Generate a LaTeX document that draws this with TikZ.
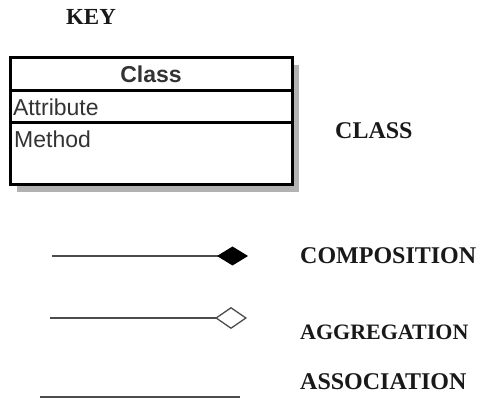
\documentclass[tikz,border=0pt]{standalone}
\usepackage{fontspec}
\setmainfont{Liberation Serif}
\newfontfamily\boxfont{Liberation Sans}
\usetikzlibrary{positioning,arrows.meta,backgrounds}

\tikzset{
	keytext/.style={font=\fontsize{24}{24}\selectfont\bfseries, text=black!90, inner sep=0pt},
	classpart/.style={draw, fill=white, line width=3pt, outer sep=0pt, minimum width=282pt, inner xsep=3pt, inner ysep=0pt,
		text width=276pt, align=left, font=\boxfont\fontsize{23}{23}\selectfont, text=black!80},
	member/.style={font=\boxfont\fontsize{23}{23}\selectfont, text=black!80, inner xsep=4pt, inner ysep=8pt},
	conn/.style={draw=black!70, line width=2pt}
}

\begin{document}
\begin{tikzpicture}[x=1pt,y=-1pt]
		\useasboundingbox (0,0) rectangle (482,403);
		%\draw[help lines] (0,0) grid (482,403);
		\node[keytext, font=\fontsize{23}{23}\selectfont\bfseries] (key) at (91,17) {KEY};
		
		% class box
		\node[classpart, minimum height=33pt, align=center] (head) at (151,74.5) {\bfseries Class};
		\node[classpart, minimum height=32pt, below=0pt of head] (attr) {Attribute};
		\node[classpart, minimum height=62pt, below=0pt of attr] (meth) {};
		\node[member, anchor=north west] (methlabel) at (meth.north west) {Method};
		\begin{scope}[on background layer]
			\fill[black!30] ([xshift=7pt,yshift=-7pt]head.north west) rectangle ([xshift=7pt,yshift=-7pt]meth.south east);
		\end{scope}
		\node[keytext, anchor=west] (classlabel) at (335,131) {CLASS};
		
		% composition
		\coordinate (compstart) at (52,256);
		\coordinate (compend) at (248,256);
		\draw[conn, -{Diamond[length=31pt,width=19pt,black]}] (compstart) -- (compend);
		\node[keytext, anchor=west] (complabel) at (300,256) {COMPOSITION};
		
		% aggregation
		\coordinate (aggstart) at (50,318);
		\coordinate (aggend) at (247,318);
		\draw[conn, -{Diamond[open,length=32pt,width=22pt,line width=1.3pt]}] (aggstart) -- (aggend);
		\node[keytext, anchor=west, font=\fontsize{22}{22}\selectfont\bfseries] (agglabel) at (300,332) {AGGREGATION};
		
		% association
		\coordinate (assocstart) at (40,397);
		\coordinate (assocend) at (240,397);
		\draw[conn] (assocstart) -- (assocend);
		\node[keytext, anchor=west] (assoclabel) at (300,382) {ASSOCIATION};
\end{tikzpicture}
\end{document}
